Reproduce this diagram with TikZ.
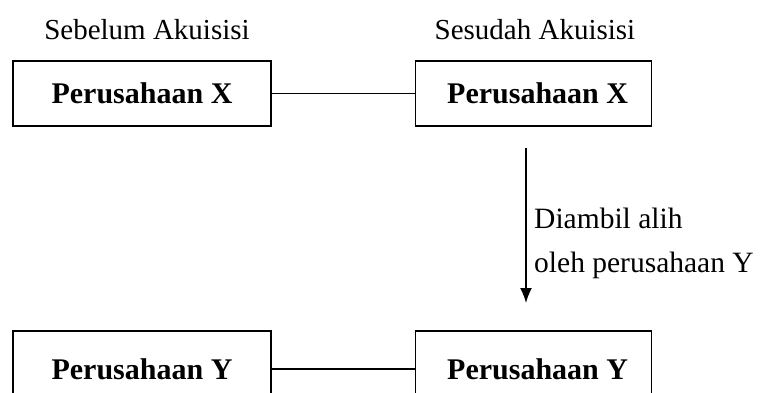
\documentclass[tikz,border=0pt]{standalone}
\usepackage{fontspec}
\setmainfont{Liberation Serif}
\usetikzlibrary{arrows.meta,positioning}

\tikzset{
  perusahaan/.style={draw, line width=1.6pt, minimum width=258pt,
    minimum height=65pt, inner sep=0pt, font=\fontsize{30}{34}\selectfont\bfseries},
  judul/.style={font=\fontsize{29}{33}\selectfont},
  keterangan/.style={font=\fontsize{29.5}{33}\selectfont, anchor=west, inner sep=0pt}
}

\begin{document}
\begin{tikzpicture}[x=1pt,y=-1pt,>={Latex[length=15pt,width=12pt]}]
  \useasboundingbox (0,0) rectangle (760,392);
  \clip (0,0) rectangle (760,392);

  \node(x0)[perusahaan] at (142,93.5) {Perusahaan X};
  \node(x1)[perusahaan, right=143pt of x0, minimum width=236pt]
  {\hspace{8pt}Perusahaan X};

  \node(sebelum)[judul] at (147,30) {Sebelum Akuisisi};
  \node(sesudah)[judul] at (535,30) {Sesudah Akuisisi};

  \draw[line width=1.6pt] (x0) -- (x1);

  \node(y0)[perusahaan, minimum height=76pt] at (142,369) {Perusahaan Y};
  \node(y1)[perusahaan, right=143pt of y0, minimum width=236pt,
            minimum height=76pt]
  {\hspace{8pt}Perusahaan Y};

  \draw[line width=1.6pt] (y0) -- (y1);

  % panah pengambilalihan
  \coordinate(awal) at (526,148);
  \coordinate(akhir) at (526,303);
  \draw[->,line width=1.6pt] (awal) -- (akhir);

  \node(ambil)[keterangan] at (534,218) {Diambil alih};
  \node(oleh)[keterangan] at (534,265) {oleh perusahaan Y};

\end{tikzpicture}
\end{document}
